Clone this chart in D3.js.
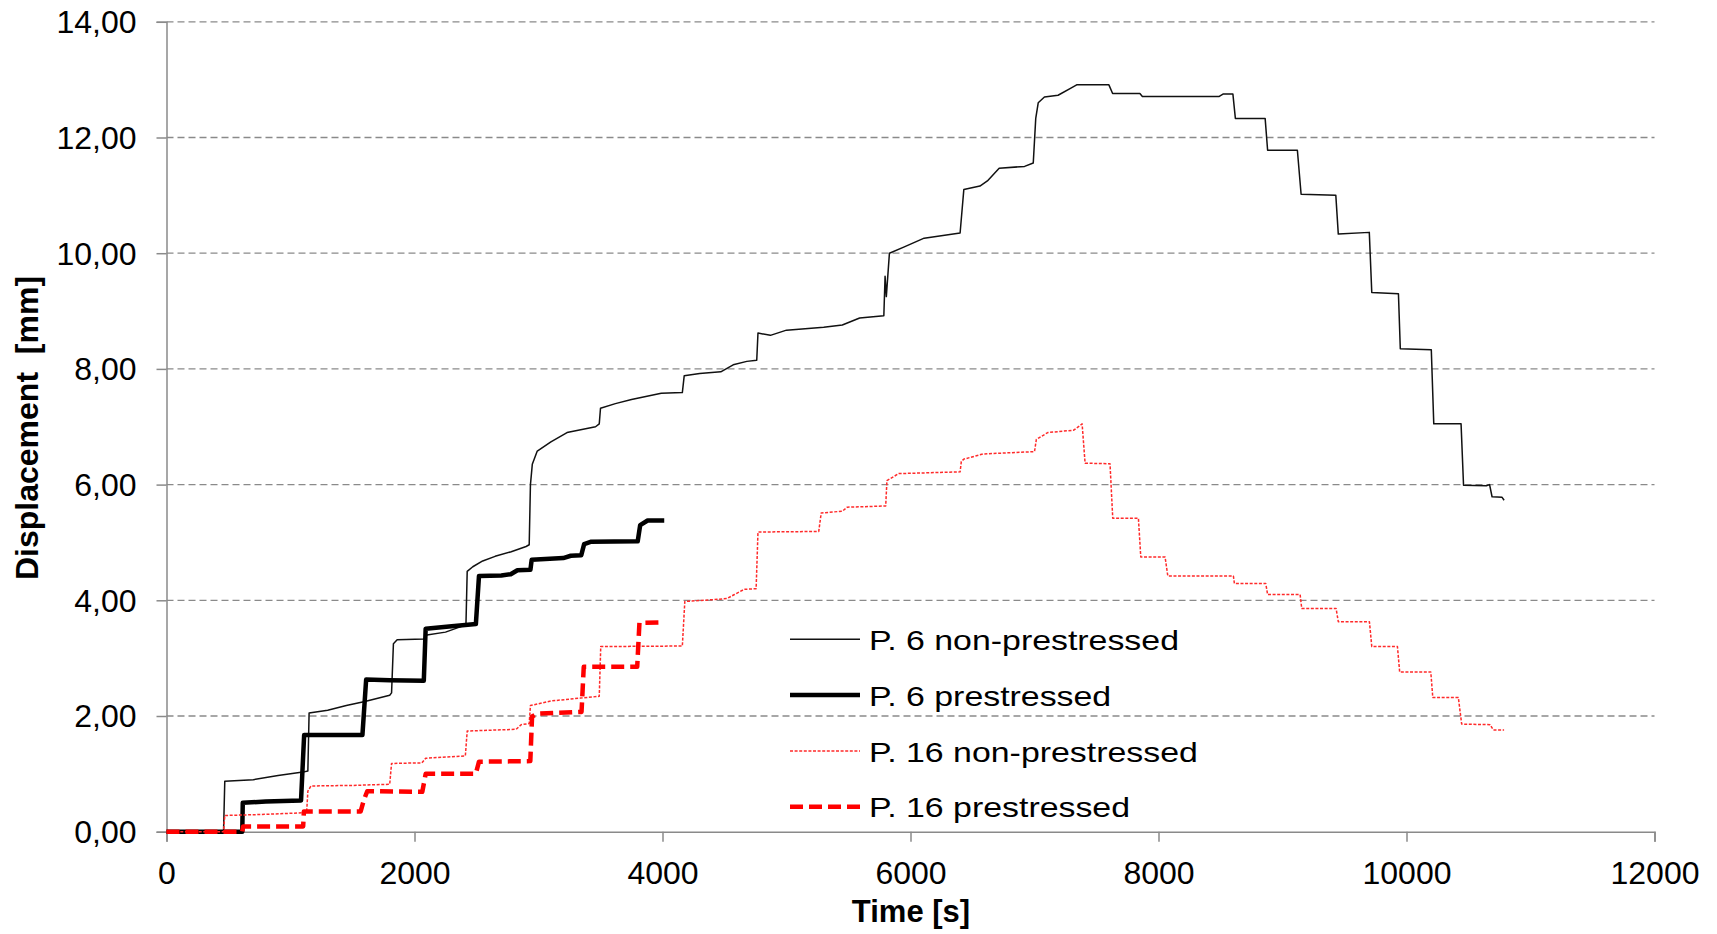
<!DOCTYPE html>
<html>
<head>
<meta charset="utf-8">
<script src="https://cdn.jsdelivr.net/npm/d3@7"></script>
<style>
  body { margin: 0; background: #fff; }
  text { font-family: "Liberation Sans", Arial, sans-serif; fill: #000; }
</style>
</head>
<body>
<div id="chart"></div>
<script>
// axis ticks
var xTicks = [0, 2000, 4000, 6000, 8000, 10000, 12000];
var yTicks = [0, 2, 4, 6, 8, 10, 12, 14];

// P. 6 non-prestressed
var p6nTime = [0, 460, 470, 700, 900, 1100, 1140, 1150, 1300, 1450, 1600, 1800, 1815, 1830, 1860, 2075, 2100, 2250, 2380, 2415,
  2425, 2470, 2550, 2650, 2780, 2900, 2925, 2935, 2950, 2990, 3100, 3230, 3460, 3490, 3500, 3620, 3750, 3990, 4160, 4175,
  4300, 4470, 4570, 4680, 4760, 4770, 4870, 5000, 5300, 5450, 5590, 5785, 5795, 5805, 5830, 5950, 6110, 6400, 6430, 6560,
  6620, 6715, 6920, 6990, 7010, 7030, 7080, 7190, 7290, 7340, 7600, 7630, 7850, 7870, 8490, 8520, 8600, 8620, 8860, 8880,
  9120, 9150, 9430, 9450, 9700, 9720, 9935, 9950, 10200, 10220, 10440, 10460, 10644, 10670, 10690, 10771, 10787];
var p6nDisp = [0, 0, 0.87, 0.90, 0.97, 1.03, 1.05, 2.05, 2.10, 2.18, 2.25, 2.36, 2.40, 3.25, 3.32, 3.33, 3.40, 3.45, 3.55, 3.58,
  4.50, 4.58, 4.68, 4.76, 4.84, 4.93, 4.96, 6.00, 6.35, 6.58, 6.74, 6.90, 7.00, 7.05, 7.32, 7.40, 7.47, 7.58, 7.59, 7.88,
  7.92, 7.95, 8.07, 8.13, 8.15, 8.62, 8.58, 8.67, 8.72, 8.76, 8.88, 8.92, 9.60, 9.25, 10.00, 10.11, 10.26, 10.35, 11.10, 11.16,
  11.25, 11.47, 11.50, 11.56, 12.33, 12.60, 12.70, 12.73, 12.85, 12.91, 12.91, 12.76, 12.76, 12.71, 12.71, 12.75, 12.75, 12.33, 12.33, 11.78,
  11.78, 11.02, 11.00, 10.33, 10.36, 9.32, 9.30, 8.35, 8.33, 7.05, 7.05, 5.99, 5.98, 6.00, 5.79, 5.78, 5.73];

// P. 6 prestressed
var p6pTime = [0, 611, 615, 800, 1085, 1110, 1580, 1610, 1800, 2075, 2090, 2300, 2495, 2520, 2700, 2776, 2830, 2935, 2945, 3200,
  3260, 3345, 3368, 3420, 3800, 3820, 3880, 4014];
var p6pDisp = [0, 0, 0.50, 0.52, 0.54, 1.67, 1.67, 2.63, 2.62, 2.61, 3.51, 3.55, 3.59, 4.42, 4.43, 4.45, 4.52, 4.53, 4.70, 4.73,
  4.77, 4.78, 4.97, 5.01, 5.02, 5.30, 5.38, 5.38];

// P. 16 non-prestressed
var p16nTime = [0, 460, 470, 800, 1130, 1140, 1165, 1500, 1800, 1815, 2060, 2090, 2410, 2425, 2820, 2860, 2925, 2935, 3100, 3340,
  3490, 3502, 4160, 4180, 4400, 4520, 4580, 4660, 4755, 4770, 5260, 5280, 5450, 5490, 5800, 5810, 5905, 6400, 6410, 6430,
  6585, 7000, 7015, 7107, 7316, 7384, 7408, 7609, 7631, 7838, 7857, 8053, 8075, 8604, 8612, 8865, 8880, 9142, 9155, 9432,
  9450, 9701, 9720, 9927, 9945, 10196, 10212, 10418, 10445, 10674, 10700, 10787];
var p16nDisp = [0, 0, 0.28, 0.30, 0.33, 0.70, 0.79, 0.80, 0.82, 1.18, 1.19, 1.27, 1.31, 1.74, 1.77, 1.85, 1.87, 2.18, 2.26, 2.31,
  2.34, 3.20, 3.21, 3.98, 4.01, 4.03, 4.10, 4.19, 4.20, 5.18, 5.19, 5.51, 5.54, 5.61, 5.63, 6.07, 6.19, 6.22, 6.40, 6.44,
  6.53, 6.57, 6.78, 6.90, 6.94, 7.05, 6.37, 6.36, 5.42, 5.42, 4.75, 4.75, 4.42, 4.42, 4.29, 4.29, 4.10, 4.10, 3.86, 3.86,
  3.63, 3.63, 3.20, 3.20, 2.76, 2.76, 2.32, 2.32, 1.86, 1.85, 1.76, 1.76];

// P. 16 prestressed
var p16pTime = [0, 611, 618, 1102, 1108, 1566, 1592, 1619, 2063, 2090, 2494, 2520, 2934, 2948, 2990, 3347, 3365, 3796, 3814, 4011];
var p16pDisp = [0, 0, 0.09, 0.09, 0.35, 0.35, 0.55, 0.70, 0.69, 1.00, 1.00, 1.21, 1.22, 1.99, 2.04, 2.07, 2.85, 2.85, 3.61, 3.62];

var seriesNames = ["P. 6 non-prestressed", "P. 6 prestressed", "P. 16 non-prestressed", "P. 16 prestressed"];

var width = 1717, height = 934;
var x0 = 166.5, x1 = 1654.5, y0 = 831.7, y1 = 21.8;

var svg = d3.select("#chart")
  .append("svg")
    .attr("width", width)
    .attr("height", height);

var x = d3.scaleLinear().domain([0, 12000]).range([x0, x1]);
var y = d3.scaleLinear().domain([0, 14]).range([y0, y1]);

var comma = d3.formatLocale({decimal: ",", thousands: ".", grouping: [3], currency: ["", ""]});

// dashed gridlines
svg.append("g")
  .selectAll("line")
  .data(yTicks.filter(function(d) { return d > 0; }))
  .enter()
  .append("line")
    .attr("x1", x0)
    .attr("x2", x1)
    .attr("y1", function(d) { return y(d); })
    .attr("y2", function(d) { return y(d); })
    .style("stroke", "#8a8a8a")
    .style("stroke-width", 1.3)
    .style("stroke-dasharray", "7,4");

// axes
var xAxis = svg.append("g")
    .attr("transform", "translate(0," + y0 + ")")
    .call(d3.axisBottom(x).tickValues(xTicks).tickSize(10).tickPadding(20).tickFormat(d3.format("d")));
var yAxis = svg.append("g")
    .attr("transform", "translate(" + x0 + ",0)")
    .call(d3.axisLeft(y).tickValues(yTicks).tickSize(10).tickPadding(20).tickFormat(comma.format(".2f")));

[xAxis, yAxis].forEach(function(a) {
  a.select(".domain").style("stroke", "#8a8a8a").style("stroke-width", 1.5);
  a.selectAll(".tick line").style("stroke", "#8a8a8a").style("stroke-width", 1.5);
  a.selectAll(".tick text")
    .style("font-family", "'Liberation Sans', Arial, sans-serif")
    .style("font-size", "32px")
    .style("fill", "#000");
});
yAxis.selectAll(".tick text").attr("dy", "0.34em");

// axis titles
svg.append("text")
    .attr("x", 911)
    .attr("y", 921.5)
    .attr("text-anchor", "middle")
    .style("font-size", "31px")
    .style("font-weight", "bold")
    .text("Time [s]");

svg.append("text")
    .attr("transform", "translate(37.5,428) rotate(-90)")
    .attr("text-anchor", "middle")
    .attr("xml:space", "preserve")
    .style("white-space", "pre")
    .style("font-size", "32px")
    .style("font-weight", "bold")
    .text("Displacement  [mm]");

// series
var series = [
  {name: seriesNames[0], t: p6nTime, v: p6nDisp, color: "#111", w: 1.5, dash: null},
  {name: seriesNames[1], t: p6pTime, v: p6pDisp, color: "#000", w: 4.5, dash: null},
  {name: seriesNames[2], t: p16nTime, v: p16nDisp, color: "#ff2a2a", w: 1.5, dash: "3,1.6"},
  {name: seriesNames[3], t: p16pTime, v: p16pDisp, color: "#ff0000", w: 4.5, dash: "13,6"}
];

var line = d3.line()
  .x(function(d) { return x(d[0]); })
  .y(function(d) { return y(d[1]); });

series.forEach(function(s) {
  var pts = s.t.map(function(t, i) { return [t, s.v[i]]; });
  svg.append("path")
    .datum(pts)
    .attr("d", line)
    .style("fill", "none")
    .style("stroke", s.color)
    .style("stroke-width", s.w)
    .style("stroke-linejoin", "round")
    .style("stroke-dasharray", s.dash);
});

// legend
var legend = svg.append("g")
  .selectAll("g")
  .data(series)
  .enter()
  .append("g")
    .attr("transform", function(d, i) { return "translate(790," + (639.3 + i * 55.8) + ")"; });

legend.append("line")
    .attr("x1", 0)
    .attr("x2", 70)
    .style("stroke", function(d) { return d.color; })
    .style("stroke-width", function(d) { return d.w; })
    .style("stroke-dasharray", function(d) { return d.dash; });

legend.append("text")
    .attr("transform", "translate(79,10.7) scale(1.21,1)")
    .style("font-size", "28px")
    .text(function(d) { return d.name; });
</script>
</body>
</html>
